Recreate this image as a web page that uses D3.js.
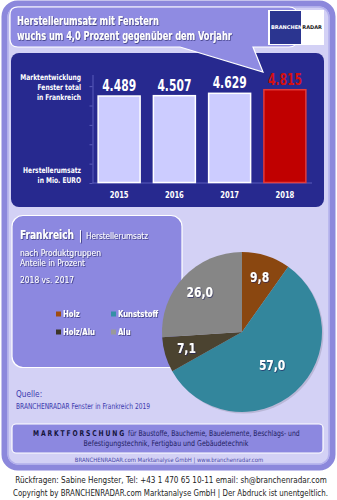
<!DOCTYPE html>
<html><head><meta charset="utf-8">
<script src="https://cdn.jsdelivr.net/npm/d3@7/dist/d3.min.js"></script>
<style>
body{margin:0;background:#fff;}
svg{display:block;}
</style></head>
<body>
<svg id="c" width="337" height="500"></svg>
<script>
// ---- data ----
const years = ["2015","2016","2017","2018"];
const revenue = [4489, 4507, 4629, 4815];
const revenueLabels = ["4.489","4.507","4.629","4.815"];
const yTicks = [0,1000,2000,3000,4000,5000];
const segments = ["Holz","Kunststoff","Holz/Alu","Alu"];
const shares = [9.8, 57.0, 7.1, 26.0];
const shareLabels = ["9,8","57,0","7,1","26,0"];

const F = "'DejaVu Sans Condensed','Liberation Sans Narrow','Open Sans',sans-serif";
const svg = d3.select("#c");
const defs = svg.append("defs");
const flt = defs.append("filter").attr("id","sh").attr("x","-20%").attr("y","-40%").attr("width","140%").attr("height","180%");
flt.append("feDropShadow").attr("dx",0.8).attr("dy",0.8).attr("stdDeviation",0.4)
  .attr("flood-color","#23215e").attr("flood-opacity",0.8);

svg.append("rect").attr("width",337).attr("height",500).attr("fill","#fff");

// helper: text fitted to a width (or scaled by opts.k) via horizontal scaling
function fitText(g, x, y, txt, size, width, opts){
  opts = opts||{};
  const anchor = opts.anchor||"start";
  const t = g.append("text").attr("font-family",F).attr("font-size",size)
    .attr("font-weight",opts.weight||"normal").attr("fill",opts.fill||"#fff")
    .attr("text-anchor",anchor).text(txt);
  if(opts.shadow) t.attr("filter","url(#sh)");
  const len = t.node().getComputedTextLength();
  const k = width ? width/len : (opts.k||1);
  t.attr("transform",`translate(${x},${y}) scale(${k},1)`);
  return t;
}

// outer frame
svg.append("rect").attr("x",4.5).attr("y",3.5).attr("width",328).attr("height",464)
  .attr("rx",13).attr("fill","#d3d1f5").attr("stroke","#8c88dc").attr("stroke-width",6);
svg.append("rect").attr("x",8).attr("y",7).attr("width",321).attr("height",457)
  .attr("rx",10).attr("fill","none").attr("stroke","#b3b0ec").attr("stroke-width",1.5);

// dark bar panel
svg.append("rect").attr("x",11).attr("y",53).attr("width",313).attr("height",154)
  .attr("rx",8).attr("fill","#27298f");

// title bubble
const bub = "M18,7 H289 Q297,7 297,15 V39 Q297,47 289,47 H253 L263,72 L180,47 H18 Q10,47 10,39 V15 Q10,7 18,7 Z";
svg.append("path").attr("d",bub).attr("fill","#8f8be2").attr("stroke","#fff").attr("stroke-width",1.2);
fitText(svg,17,25,"Herstellerumsatz mit Fenstern",11.5,142,{weight:"bold",shadow:true});
fitText(svg,17,40,"wuchs um 4,0 Prozent gegenüber dem Vorjahr",11.5,215,{weight:"bold",shadow:true});

// logo
svg.append("rect").attr("x",268).attr("y",10).attr("width",56).attr("height",35).attr("fill","#fff");
svg.append("rect").attr("x",270).attr("y",11).attr("width",31).attr("height",33).attr("fill","#2b3590");
const lg = svg.append("text").attr("x",271).attr("y",29).attr("font-family",F).attr("font-size",5).attr("font-weight","bold")
  .attr("textLength",51).attr("lengthAdjust","spacingAndGlyphs");
lg.append("tspan").attr("fill","#fff").text("BRANCHEN");
lg.append("tspan").attr("fill","#222").text("RADAR");

// bar chart
const x = d3.scaleBand().domain(years).range([91.5,312.5]).paddingInner(0.24).paddingOuter(0.12);
const y = d3.scaleLinear().domain([0,5600]).range([183,74.5]);
const ax = svg.append("g").attr("transform","translate(92.5,0)")
  .call(d3.axisLeft(y).tickValues(yTicks).tickSize(3).tickSizeOuter(0).tickFormat(""));
ax.selectAll("path,line").attr("stroke","#5b5dbb");
svg.append("line").attr("x1",92.5).attr("x2",312).attr("y1",183).attr("y2",183).attr("stroke","#5b5dbb");

const bars = svg.append("g");
years.forEach((yr,i)=>{
  const last = i===years.length-1;
  bars.append("rect").attr("x",x(yr)).attr("y",y(revenue[i])).attr("width",x.bandwidth())
    .attr("height",y(0)-y(revenue[i])-0.5)
    .attr("fill",last?"#c00000":"#ccccff").attr("stroke",last?"#e23a3a":"#fff").attr("stroke-width",1.5);
  fitText(bars,x(yr)+x.bandwidth()/2,y(revenue[i])-5,revenueLabels[i],15,34,
    {anchor:"middle",weight:"bold",fill:last?"#d41010":"#fff"});
  fitText(bars,x(yr)+x.bandwidth()/2,198,yr,9.5,19,{anchor:"middle",weight:"bold"});
});
const leftL = [["Marktentwicklung",80],["Fenster total",90],["in Frankreich",100],["Herstellerumsatz",173],["in Mio. EURO",183]];
leftL.forEach(([t,yy])=>{
  fitText(svg,81,yy,t,8,null,{anchor:"end",weight:"bold",k:0.83});
});

// Frankreich box
svg.append("rect").attr("x",12).attr("y",215.5).attr("width",170).attr("height",152)
  .attr("rx",11).attr("fill","#8c88e0").attr("stroke","#fff").attr("stroke-width",1.2);
fitText(svg,20,239,"Frankreich",12.5,54,{weight:"bold",shadow:true});
fitText(svg,78.5,239.5,"|",13,null,{shadow:true});
fitText(svg,86,239,"Herstellerumsatz",8.2,62,{shadow:true});
fitText(svg,20,256,"nach Produktgruppen",8.2,81,{shadow:true});
fitText(svg,20,265.5,"Anteile in Prozent",8.2,65,{shadow:true});
fitText(svg,20,283,"2018 vs. 2017",8.2,54,{shadow:true});

// legend
const legColors = ["#a04c10","#3590a6","#3c3528","#999999"];
const legPos = [[56,317],[111,317],[56,335],[111,335]];
segments.forEach((s,i)=>{
  const [lx,ly] = legPos[i];
  svg.append("rect").attr("x",lx).attr("y",ly-5.5).attr("width",5).attr("height",5).attr("fill",legColors[i]);
  fitText(svg,lx+7,ly,s,8.5,null,{weight:"bold",shadow:true,k:0.9});
});

// pie
const pieColors = ["#8a4710","#33869c","#4b4330","#868686"];
const cx = 242, cy = 332, R = 80;
const pie = d3.pie().sort(null).value(d=>d)(shares);
const arc = d3.arc().innerRadius(0).outerRadius(R);
const pg = svg.append("g").attr("transform",`translate(${cx},${cy})`);
pg.append("circle").attr("r",R).attr("cx",1.5).attr("cy",1.5).attr("fill","#000").attr("opacity",0.12);
pg.selectAll("path.s").data(pie).enter().append("path").attr("d",arc).attr("fill",(d,i)=>pieColors[i]);
pie.forEach((d,i)=>{
  const rl = d.value>50 ? 45 : 58;
  const a = (d.startAngle+d.endAngle)/2;
  const lx = Math.sin(a)*rl, ly = -Math.cos(a)*rl + 5;
  fitText(pg,lx,ly,shareLabels[i],14,null,{weight:"bold",anchor:"middle",shadow:true,k:0.85});
});

// source
svg.append("text").attr("x",16).attr("y",397).attr("font-family",F).attr("font-size",8.2).attr("fill","#3a3aae").text("Quelle:");
fitText(svg,16,409,"BRANCHENRADAR Fenster in Frankreich  2019",8.2,134,{fill:"#3a3aae"});

// Marktforschung box
svg.append("rect").attr("x",12).attr("y",424).attr("width",311).attr("height",29).attr("rx",4)
  .attr("fill","#8c88e0").attr("stroke","#fff").attr("stroke-width",1.2);
const m1 = svg.append("text").attr("font-family",F).attr("font-size",8);
m1.append("tspan").attr("font-weight","bold").attr("fill","#14143c").attr("letter-spacing",2.2).text("MARKTFORSCHUNG");
m1.append("tspan").attr("fill","#1c1c5e").text(" für Baustoffe, Bauchemie, Bauelemente, Beschlags- und");
{
  const len = m1.node().getComputedTextLength();
  m1.attr("transform",`translate(33,435.5) scale(${267/len},1)`);
}
fitText(svg,166,446,"Befestigungstechnik, Fertigbau und Gebäudetechnik",8,165,{anchor:"middle",fill:"#1c1c5e"});
fitText(svg,169,462,"BRANCHENRADAR.com Marktanalyse GmbH | www.branchenradar.com",6,189,{anchor:"middle",fill:"#4848a8"});

// footer
fitText(svg,171,483,"Rückfragen: Sabine Hengster, Tel: +43 1 470 65 10-11 email: sh@branchenradar.com",9,312,{anchor:"middle",fill:"#222"});
fitText(svg,170.5,496,"Copyright by BRANCHENRADAR.com  Marktanalyse GmbH | Der Abdruck ist unentgeltlich.",9,315,{anchor:"middle",fill:"#222"});
</script>
</body></html>
